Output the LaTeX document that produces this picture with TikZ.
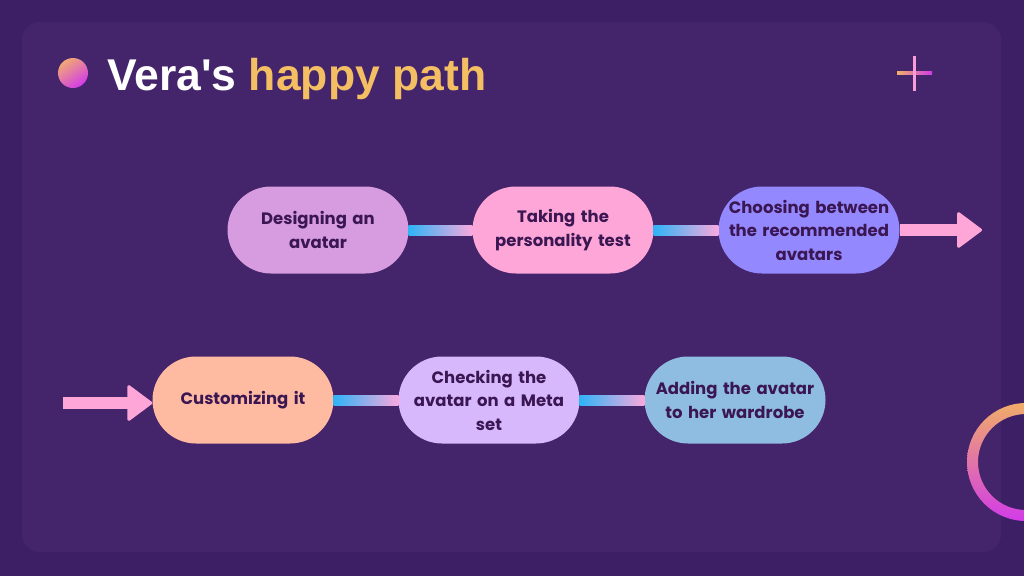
\documentclass[tikz,border=0pt]{standalone}
\usepackage{fontspec}
\setmainfont{Poppins}[BoldFont={Poppins Bold}]
\newfontfamily\titlefont{Liberation Sans}
\usetikzlibrary{arrows.meta,calc}
\definecolor{outerbg}{HTML}{3C1F64}
\definecolor{innerbg}{HTML}{44246A}
\definecolor{txt}{HTML}{3A1652}
\definecolor{gold}{HTML}{F4BE63}
\definecolor{pinkc}{HTML}{FFA6D8}
\definecolor{lilac}{HTML}{D79BDF}
\definecolor{violet}{HTML}{9488FF}
\definecolor{peach}{HTML}{FFBBA2}
\definecolor{lavender}{HTML}{D8B8FD}
\definecolor{skyb}{HTML}{8FBDE2}
\definecolor{cyanc}{HTML}{2FB4F6}
\definecolor{magc}{HTML}{D23BE8}
\definecolor{orangec}{HTML}{F0A86A}
\tikzset{
  pill/.style={rectangle, rounded corners=43.5pt, minimum width=181pt, minimum height=87pt,
    text width=178pt, align=center, inner sep=0pt, text=txt,
    font=\fontsize{16.5}{23.5}\selectfont\bfseries},
  link/.style={left color=cyanc, right color=pinkc!85!lavender},
  bigarrow/.style={draw=pinkc, line width=12pt,
    -{Triangle[length=26pt,width=38pt,line width=3pt,round,fill=pinkc]}}
}
\begin{document}
\begin{tikzpicture}[x=1pt,y=-1pt]
\useasboundingbox (0,0) rectangle (1024,576);
\fill[outerbg] (0,0) rectangle (1024,576);
\fill[innerbg, rounded corners=18pt] (22,22) rectangle (1001,552);
% title
\shade[top color=orangec!90!pinkc, bottom color=magc, shading angle=35] (73,73) circle (15);
\node[anchor=base west, inner sep=0pt, font=\titlefont\fontsize{44.5}{50}\selectfont\bfseries] (title) at (107,90)
  {\textcolor{white}{Vera's} \textcolor{gold}{happy path}};
% plus sign
\shade[left color=orangec!70!gold, right color=magc] (897,71.5) rectangle (932,74.5);
\fill[pinkc!90!magc] (912.5,56) rectangle (915.5,91);
% ring
\begin{scope}
\clip (0,0) rectangle (1024,576);
\shade[top color=orangec!80!gold, bottom color=magc, even odd rule] (1026,462) circle (59) (1026,462) circle (48);
\end{scope}
% row 1
\node[pill, fill=lilac] (n1) at (318,230) {Designing an\\avatar};
\node[pill, fill=pinkc] (n2) at (563,230) {Taking the\\personality test};
\node[pill, fill=violet] (n3) at (809,230) {Choosing between\\the recommended\\avatars};
\coordinate (end1) at (982,230);
% row 2
\node[pill, fill=peach] (n4) at (243,400) {Customizing it};
\node[pill, fill=lavender] (n5) at (489,400) {Checking the\\avatar on a Meta\\set};
\node[pill, fill=skyb] (n6) at (735,400) {Adding the avatar\\to her wardrobe};
\coordinate (start2) at (63,403);
% connectors
\shade[link] ($(n1.east)+(0,-5)$) rectangle ($(n2.west)+(0,5)$);
\shade[link] ($(n2.east)+(0,-5)$) rectangle ($(n3.west)+(0,5)$);
\shade[link] ($(n4.east)+(0,-5)$) rectangle ($(n5.west)+(0,5)$);
\shade[link] ($(n5.east)+(0,-5)$) rectangle ($(n6.west)+(0,5)$);
\draw[bigarrow] (n3.east) -- (end1);
\draw[bigarrow] (start2) -- (start2 -| n4.west);
\end{tikzpicture}
\end{document}
